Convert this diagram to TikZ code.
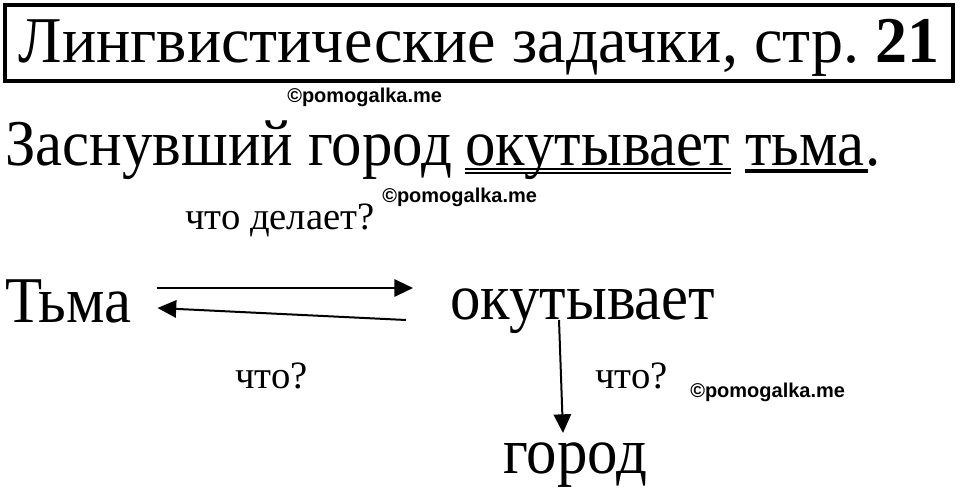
\documentclass[tikz,border=0pt]{standalone}
\usepackage{fontspec}
\setmainfont{Liberation Serif}
\newfontfamily\wordfont[FakeStretch=0.93]{Liberation Serif}
\newfontfamily\headfont[FakeStretch=0.98]{Liberation Serif}
\newfontfamily\markfont{Liberation Sans}
\usetikzlibrary{arrows.meta}

\begin{document}
\begin{tikzpicture}[x = .75pt, y = -.75pt,
		word/.style = {inner sep = 0pt, anchor = base west, font = \wordfont\fontsize{49}{54}\selectfont},
		ask/.style = {inner sep = 0pt, anchor = base west, font = \fontsize{29}{32}\selectfont},
		wmark/.style = {inner sep = 0pt, anchor = base west, font = \markfont\bfseries\fontsize{15}{17}\selectfont},
		link/.style = {line width = 1.5pt, -{Triangle[length = 14pt, width = 13pt]}}]
	\useasboundingbox (0,0) rectangle (960,488);
	\node[draw, line width = 2.4pt, inner sep = 0pt, minimum width = 711pt, minimum height = 57pt,
		text height = 36pt, text depth = 6pt,
		font = \headfont\fontsize{49}{54}\selectfont] (title) at (479,43) {Лингвистические задачки, стр.\ \textbf{21}}; %title box
	\node[wmark] (wm1) at (287,103) {©pomogalka.me};
	% the sentence
	\node[word] (sent) at (5,166) {Заснувший город};
	\node[word] (pred) at (465,166) {окутывает};
	\node[word] (subj) at (745,166) {тьма};
	\node[word] (dot) at (subj.base east) {.};
	\draw[line width = 1.1pt] ([shift = {(0,3)}]pred.base west) -- ([shift = {(0,3)}]pred.base east); %predicate
	\draw[line width = 1.1pt] ([shift = {(0,7)}]pred.base west) -- ([shift = {(0,7)}]pred.base east);
	\draw[line width = 3pt] ([shift = {(0,5)}]subj.base west) -- ([shift = {(3,5)}]subj.base east); %subject
	% the scheme
	\node[ask] (q1) at (185,230) {что делает?};
	\node[wmark] (wm2) at (382,203) {©pomogalka.me};
	\node[word] (tma) at (5,322) {Тьма};
	\node[word] (okut) at (450,320) {окутывает};
	\node[ask] (q2) at (235,388) {что?};
	\node[ask] (q3) at (595,388) {что?};
	\node[wmark] (wm3) at (690,397) {©pomogalka.me};
	\node[word] (gorod) at (503,473) {город};
	\draw[link] ([shift = {(25,-34)}]tma.base east) -- ([shift = {(-37,-32)}]okut.base west);
	\draw[link] ([shift = {(-44,0)}]okut.base west) -- ([shift = {(26,-14)}]tma.base east);
	\draw[link] ([shift = {(109,0)}]okut.base west) -- ([shift = {(60,-40)}]gorod.base west);
\end{tikzpicture}
\end{document}
